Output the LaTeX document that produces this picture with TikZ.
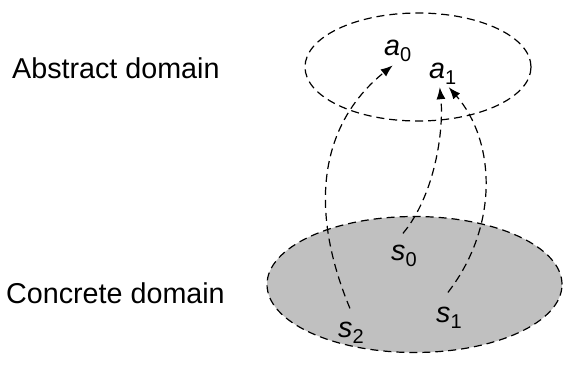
\documentclass[tikz,border=0pt]{standalone}
\usepackage{fontspec}
\setmainfont{Liberation Sans}
\usetikzlibrary{arrows.meta,shapes.geometric}
\newcommand\symb[2]{\textit{#1}\raisebox{-6pt}{\fontsize{20}{21}\selectfont #2}}
\begin{document}
\begin{tikzpicture}[x=1pt,y=-1pt,
  every node/.style={font=\fontsize{28.7}{34}\selectfont, inner sep=0pt},
  domainbox/.style={ellipse, draw, line width=1.2pt, dash pattern=on 8pt off 5pt},
  mapsto/.style={draw, line width=1.2pt, dash pattern=on 8pt off 5pt,
    -{Latex[length=12pt,width=9pt]}}]
  \useasboundingbox (0,0) rectangle (569,367);
  % domains
  \node[domainbox, minimum width=226pt, minimum height=108pt] (abs) at (418,67) {};
  \node[domainbox, fill={rgb,255:red,192;green,192;blue,192},
        minimum width=295pt, minimum height=136pt] (con) at (414.5,284.5) {};
  \node[anchor=base west] (abslab) at (12,78) {Abstract domain};
  \node[anchor=base west] (conlab) at (6,303) {Concrete domain};
  % abstract elements
  \node[anchor=base west] (a0) at (384,55) {\symb{a}{0}};
  \node[anchor=base west] (a1) at (429,78) {\symb{a}{1}};
  % concrete states
  \node[anchor=base west] (s0) at (391,260) {\symb{s}{0}};
  \node[anchor=base west] (s1) at (436,322) {\symb{s}{1}};
  \node[anchor=base west] (s2) at (338,337) {\symb{s}{2}};
  % abstraction maps
  \path[mapsto] ([shift={(-1pt,13pt)}]s2.north) .. controls (305,200) and (325,120) .. ([shift={(-5pt,-4pt)}]a0.south);
  \path[mapsto] ([shift={(-1pt,11pt)}]s0.north) .. controls (435,195) and (444,130) .. ([shift={(-3pt,-3pt)}]a1.south);
  \path[mapsto] ([shift={(-1pt,14pt)}]s1.north) .. controls (500,225) and (495,140) .. ([shift={(6pt,-3pt)}]a1.south);
\end{tikzpicture}
\end{document}
